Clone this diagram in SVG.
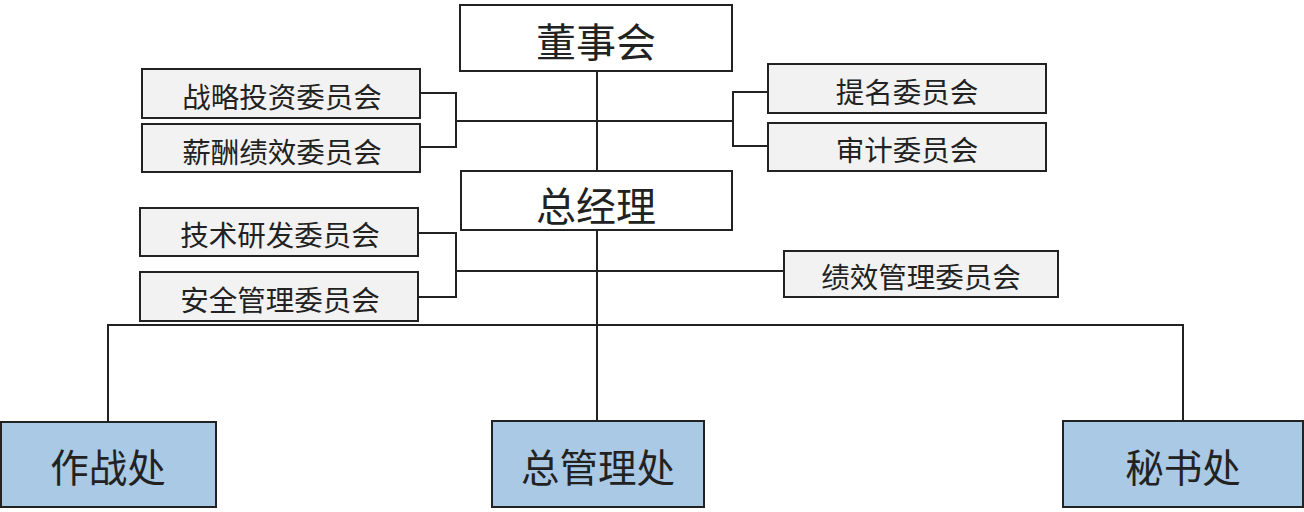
<svg xmlns="http://www.w3.org/2000/svg" width="1304" height="512" viewBox="0 0 1304 512">
<style>
.top{fill:#ffffff;stroke:#222;stroke-width:2}
.com{fill:#f2f2f2;stroke:#222;stroke-width:2}
.dep{fill:#a9c9e4;stroke:#222;stroke-width:2}
text{font-family:"Noto Sans CJK SC","Noto Sans",sans-serif;fill:#222;text-anchor:middle;dominant-baseline:central}
.t1{font-size:40px}
.t2{font-size:28.5px}
.t3{font-size:38.5px}
#conn path{fill:none;stroke:#222;stroke-width:2}
</style>
<rect width="1304" height="512" fill="#ffffff"/>
<g id="conn">
<path d="M597 71 V171"/>
<path d="M420 93 H456 V147 H420"/>
<path d="M456 121 H733"/>
<path d="M768 92 H733 V146 H768"/>
<path d="M597 230 V421"/>
<path d="M418 233 H456 V297 H418"/>
<path d="M456 271 H784"/>
<path d="M108 422 V325 H1183 V421"/>
</g>
<g id="n_dongshihui"><rect class="top" x="460" y="5" width="272" height="66"/><text class="t1" x="596" y="40">董事会</text></g>
<g id="n_zhanlue"><rect class="com" x="142" y="69" width="278" height="49"/><text class="t2" x="282" y="95">战略投资委员会</text></g>
<g id="n_xinchou"><rect class="com" x="142" y="124" width="278" height="48"/><text class="t2" x="282" y="150">薪酬绩效委员会</text></g>
<g id="n_timing"><rect class="com" x="768" y="64" width="278" height="49"/><text class="t2" x="907" y="90">提名委员会</text></g>
<g id="n_shenji"><rect class="com" x="768" y="123" width="278" height="48"/><text class="t2" x="907" y="148">审计委员会</text></g>
<g id="n_zongjingli"><rect class="top" x="461" y="171" width="271" height="59"/><text class="t1" x="596" y="204">总经理</text></g>
<g id="n_jishu"><rect class="com" x="140" y="208" width="278" height="48"/><text class="t2" x="280" y="233">技术研发委员会</text></g>
<g id="n_anquan"><rect class="com" x="140" y="272" width="278" height="49"/><text class="t2" x="280" y="298">安全管理委员会</text></g>
<g id="n_jixiao"><rect class="com" x="784" y="251" width="274" height="46"/><text class="t2" x="921" y="275">绩效管理委员会</text></g>
<g id="n_zuozhan"><rect class="dep" x="1" y="422" width="215" height="85"/><text class="t3" x="108" y="465">作战处</text></g>
<g id="n_zongguanli"><rect class="dep" x="492" y="421" width="212" height="86"/><text class="t3" x="598" y="465">总管理处</text></g>
<g id="n_mishu"><rect class="dep" x="1063" y="421" width="240" height="86"/><text class="t3" x="1183" y="465">秘书处</text></g>
</svg>
